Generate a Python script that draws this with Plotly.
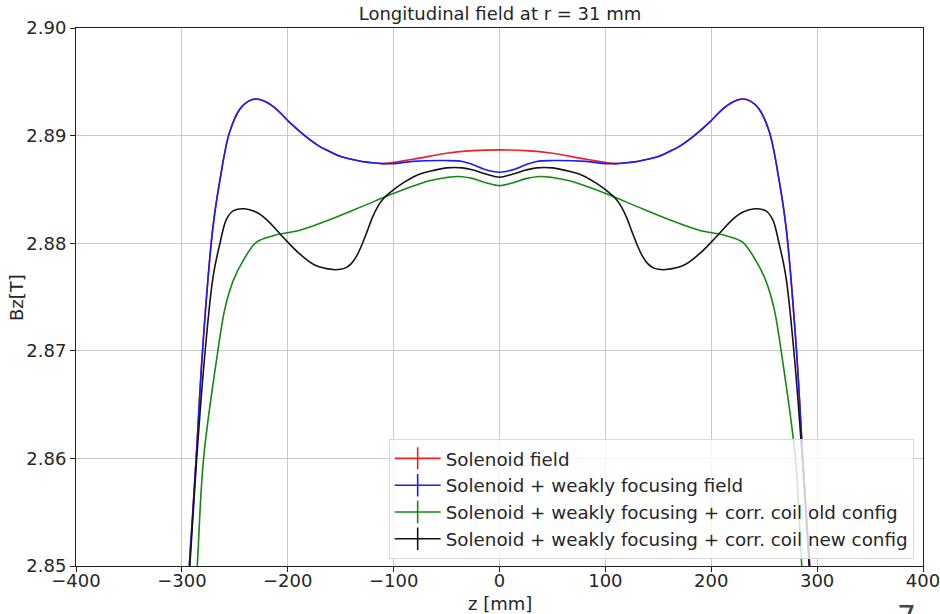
import plotly.graph_objects as go

# z positions [mm] and Bz values [T]
z_sol = [-300, -293, -286.5, -280.5, -271, -264, -255, -245, -237, -230, -220, -210, -198, -184,
         -170, -160, -150, -140, -130, -120, -110, -82, -50, -25, 0,
         25, 50, 82, 110, 120, 130, 140, 150, 160, 170, 184, 198, 210, 220, 230, 237, 245, 255, 264, 271,
         280.5, 286.5, 293, 300]
bz_sol = [2.840, 2.850, 2.860, 2.870, 2.8812, 2.8859, 2.8903, 2.8925, 2.8932, 2.8934, 2.8931,
          2.8924, 2.8912, 2.8900, 2.8890, 2.8885, 2.88805, 2.8878, 2.8876, 2.88748, 2.8874,
          2.8878, 2.88836, 2.8886, 2.88867,
          2.8886, 2.88836, 2.8878, 2.8874, 2.88748, 2.8876, 2.8878, 2.88805, 2.8885, 2.8890, 2.8900,
          2.8912, 2.8924, 2.8931, 2.8934, 2.8932, 2.8925, 2.8903, 2.8859, 2.8812, 2.870, 2.860, 2.850, 2.840]

z_wf = [-300, -293, -286.5, -280.5, -271, -264, -255, -245, -237, -230, -220, -210, -198, -184,
        -170, -160, -150, -140, -130, -120, -110, -100, -82, -50, -35, -25, -15, -6, 0,
        6, 15, 25, 35, 50, 82, 100, 110, 120, 130, 140, 150, 160, 170, 184, 198, 210, 220, 230, 237, 245,
        255, 264, 271, 280.5, 286.5, 293, 300]
bz_wf = [2.840, 2.850, 2.860, 2.870, 2.8812, 2.8859, 2.8903, 2.8925, 2.8932, 2.8934, 2.8931,
         2.8924, 2.8912, 2.8900, 2.8890, 2.8885, 2.88805, 2.8878, 2.8876, 2.88748, 2.8874, 2.8874,
         2.8876, 2.88768, 2.8876, 2.8873, 2.8869, 2.88667, 2.8866,
         2.88667, 2.8869, 2.8873, 2.8876, 2.88768, 2.8876, 2.8874, 2.8874, 2.88748, 2.8876, 2.8878,
         2.88805, 2.8885, 2.8890, 2.8900, 2.8912, 2.8924, 2.8931, 2.8934, 2.8932, 2.8925,
         2.8903, 2.8859, 2.8812, 2.870, 2.860, 2.850, 2.840]

z_old = [-292, -285.5, -279.5, -266, -259.4, -251.6, -242, -229.5, -213.8, -188.7, -160, -130, -103.5,
         -82, -66, -50, -38, -25, -12, 0,
         12, 25, 38, 50, 66, 82, 103.5, 130, 160, 188.7, 213.8, 229.5, 242, 251.6, 259.4, 266, 279.5,
         285.5, 292]
bz_old = [2.840, 2.850, 2.860, 2.870, 2.8739, 2.8765, 2.8784, 2.8801, 2.8807, 2.8812, 2.8822, 2.8834, 2.8845,
          2.8853, 2.8858, 2.8861, 2.8862, 2.8860, 2.8856, 2.88535,
          2.8856, 2.8860, 2.8862, 2.8861, 2.8858, 2.8853, 2.8845, 2.8834, 2.8822, 2.8812, 2.8807, 2.8801,
          2.8784, 2.8765, 2.8739, 2.870, 2.860, 2.850, 2.840]

z_new = [-300, -292.5, -286, -278, -270.5, -264, -258, -251.6, -241, -230, -220, -204.4, -188.7, -175, -157,
         -150, -145, -140, -135, -130, -125, -120, -115, -110, -103.5, -91, -78.5, -66, -50, -35, -25, -12, 0,
         12, 25, 35, 50, 66, 78.5, 91, 103.5, 110, 115, 120, 125, 130, 135, 140, 145, 150, 157, 175, 188.7,
         204.4, 220, 230, 241, 251.6, 258, 264, 270.5, 278, 286, 292.5, 300]
bz_new = [2.841, 2.850, 2.860, 2.870, 2.8769, 2.8800, 2.8822, 2.8830, 2.8832, 2.8829, 2.8822, 2.88055, 2.8790,
          2.8780, 2.87755, 2.87758, 2.87773, 2.8781, 2.8788, 2.87985, 2.8811, 2.8824, 2.8834, 2.8841,
          2.8847, 2.8856, 2.8863, 2.88668, 2.8870, 2.8870, 2.8868, 2.8864, 2.88613,
          2.8864, 2.8868, 2.8870, 2.8870, 2.88668, 2.8863, 2.8856, 2.8847, 2.8841, 2.8834, 2.8824, 2.8811,
          2.87985, 2.8788, 2.8781, 2.87773, 2.87758, 2.87755, 2.8780, 2.8790, 2.88055, 2.8822, 2.8829,
          2.8832, 2.8830, 2.8822, 2.8800, 2.8769, 2.870, 2.860, 2.850, 2.841]

names = ["Solenoid field",
         "Solenoid + weakly focusing field",
         "Solenoid + weakly focusing + corr. coil old config",
         "Solenoid + weakly focusing + corr. coil new config"]
colors = ["#ee2222", "#1a1aff", "#128a12", "#151515"]
series = [(z_sol, bz_sol), (z_wf, bz_wf), (z_old, bz_old), (z_new, bz_new)]

x_ticks = [-400, -300, -200, -100, 0, 100, 200, 300, 400]
y_ticks = [2.85, 2.86, 2.87, 2.88, 2.89, 2.90]

FONT = "DejaVu Sans"
TXT = "#262626"
FS = 18
W, H = 940, 614
L, R, T, B = 76, 17, 28, 48
PW, PH = W - L - R, H - T - B

fig = go.Figure()
for (zz, bb), c in zip(series, colors):
    fig.add_trace(go.Scatter(x=zz, y=bb, mode="lines",
                             line=dict(color=c, width=1.6, shape="spline", smoothing=1.0),
                             showlegend=False, hoverinfo="skip"))
for i, (c, n) in enumerate(zip(colors, names)):
    fig.add_trace(go.Scatter(x=[None], y=[None], mode="lines+markers", name=n, legendgroup=f"g{i}",
                             line=dict(color=c, width=1.6),
                             marker=dict(symbol="line-ns-open", size=20, color=c, line=dict(color=c, width=1.6))))

fig.update_layout(
    width=W, height=H,
    margin=dict(l=L, r=R, t=T, b=B, autoexpand=False),
    paper_bgcolor="white", plot_bgcolor="white",
    font=dict(family=FONT, size=FS, color=TXT),
    hovermode=False,
    title=dict(text="Longitudinal field at r = 31 mm", x=500 / W, xanchor="center",
               yref="container", y=1 - 14 / H, yanchor="middle",
               font=dict(family=FONT, size=FS, color=TXT)),
    xaxis=dict(range=[-400, 400], tickmode="array", tickvals=x_ticks,
               ticktext=[str(v).replace("-", "\u2212") for v in x_ticks],
               showgrid=True, gridcolor="#c8c8c8", gridwidth=1, zeroline=False,
               showline=True, linecolor="#222222", linewidth=1, mirror=True,
               ticks="outside", ticklen=5, tickcolor="#222222", automargin=False,
               ticklabeloverflow="allow", ticklabelstandoff=-7),
    yaxis=dict(range=[2.85, 2.90], tickmode="array", tickvals=y_ticks,
               ticktext=[f"{v:.2f}" for v in y_ticks],
               showgrid=True, gridcolor="#c8c8c8", gridwidth=1, zeroline=False,
               showline=True, linecolor="#222222", linewidth=1, mirror=True,
               ticks="outside", ticklen=5, tickcolor="#222222", automargin=False,
               ticklabeloverflow="allow"),
    legend=dict(x=0.989, xanchor="right", y=0.013, yanchor="bottom",
                bgcolor="rgba(255,255,255,0.8)", bordercolor="#d8d8d8", borderwidth=1,
                font=dict(family=FONT, size=18.3, color=TXT), tracegroupgap=0, itemwidth=46),
    annotations=[
        dict(text="z [mm]", xref="paper", yref="paper", x=(500 - L) / PW, y=-(603 - (H - B)) / PH,
             xanchor="center", yanchor="middle", showarrow=False,
             font=dict(family=FONT, size=FS, color=TXT)),
        dict(text="Bz[T]", xref="paper", yref="paper", x=-(L - 16) / PW, y=0.5, textangle=-90,
             xanchor="center", yanchor="middle", showarrow=False,
             font=dict(family=FONT, size=FS, color=TXT)),
        dict(text="7", xref="paper", yref="paper", x=(906 - L) / PW, y=-(597 - (H - B)) / PH,
             xanchor="center", yanchor="top", showarrow=False,
             font=dict(family=FONT, size=30, color="#444444")),
    ],
)

fig.write_html("out.html", config={"displayModeBar": False},
               post_script="document.body.style.margin='0';document.body.style.padding='0';")
